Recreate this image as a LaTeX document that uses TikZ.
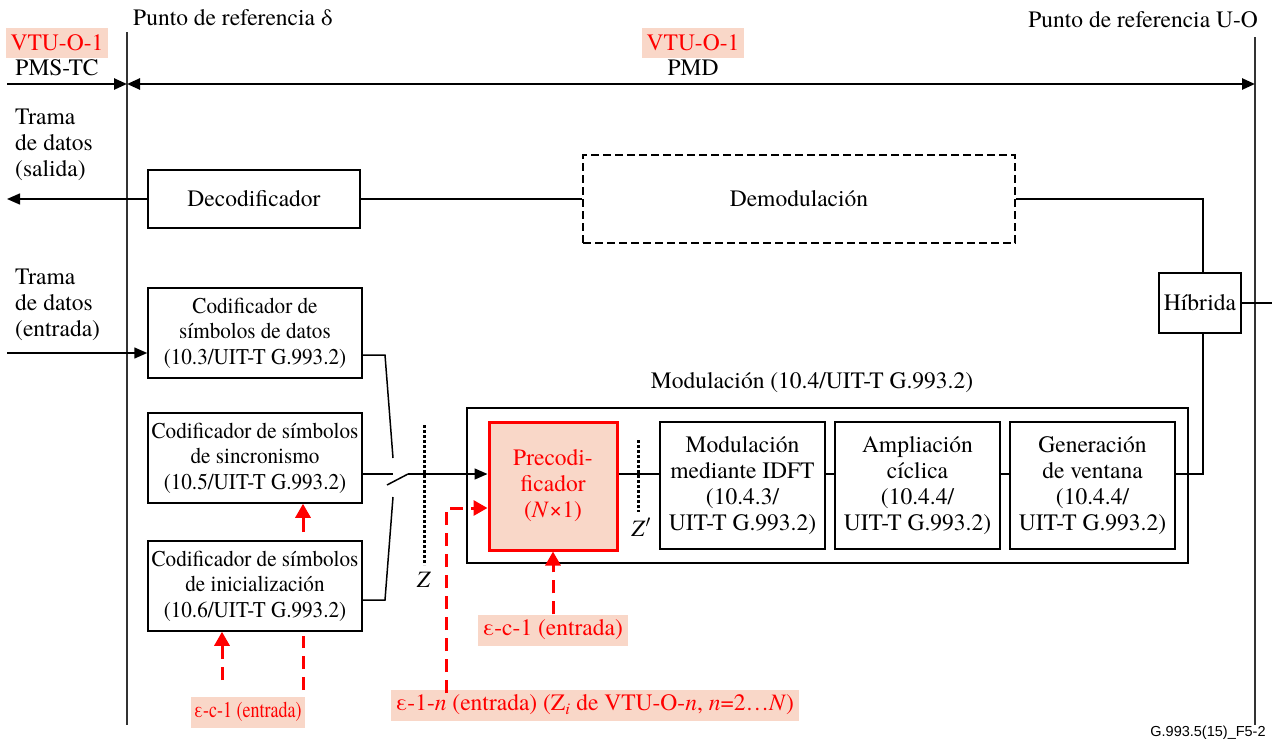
\documentclass[tikz,border=0pt]{standalone}
\usepackage{fontspec}
\IfFontExistsTF{texgyretermes-regular.otf}{%
  \setmainfont{texgyretermes}[Extension=.otf, UprightFont=*-regular, ItalicFont=*-italic, BoldFont=*-bold, BoldItalicFont=*-bolditalic]%
}{%
  \setmainfont{Liberation Serif}%
}
\newfontfamily\footfont{Liberation Sans}
\usetikzlibrary{arrows.meta}
\definecolor{pinkbg}{RGB}{249,215,200}
\definecolor{myred}{RGB}{255,0,0}
\begin{document}
\begin{tikzpicture}[x=1pt,y=-1pt,
  font=\fontsize{23.5}{26}\selectfont,
  box/.style={draw, line width=1.5pt, align=center, inner sep=0pt},
  cbox/.style={box, font=\fontsize{22.5}{25.5}\selectfont\addfontfeature{FakeStretch=0.94}},
  ln/.style={line width=1.5pt},
  tip/.style={-{Triangle[length=13pt,width=11pt]}},
  reddash/.style={draw=myred, line width=3pt, dash pattern=on 13pt off 8pt},
  redtip/.style={-{Triangle[length=14pt,width=15pt]}},
  redlab/.style={fill=pinkbg, text=myred, inner xsep=5pt, inner ysep=3pt},
  zdot/.style={line width=3pt, dash pattern=on 3pt off 2pt},
  refline/.style={line width=2pt, draw=black!80},
  lab/.style={inner sep=0pt}
]
\useasboundingbox (0,0) rectangle (1272,744);

% reference lines
\coordinate (dT) at (127,32);
\coordinate (dB) at (127,725);
\coordinate (uT) at (1255,37);
\coordinate (uB) at (1255,725);
\draw[refline] (dT) -- (dB);
\draw[refline] (uT) -- (uB);

\node[lab, anchor=west] (pdelta) at (133,18) {Punto de referencia δ};
\node[lab, anchor=east] (puo) at (1258,20) {Punto de referencia U-O};

\node[redlab, minimum height=30pt] (vtu1) at (57,43) {VTU-O-1};
\node[lab] (pms) at (57,68) {PMS-TC};
\node[redlab, minimum height=30pt] (vtu2) at (693,43) {VTU-O-1};
\node[lab] (pmd) at (693,68) {PMD};

% top arrows
\coordinate (a0) at (7,84);
\coordinate (a1) at (127,84);
\coordinate (a2) at (1255,84);
\draw[line width=2.5pt, tip] (a0) -- (a1);
\draw[line width=2.5pt, {Triangle[length=13pt,width=11pt]}-{Triangle[length=13pt,width=11pt]}] (a1) -- (a2);

% left texts
\node[lab, anchor=west, align=left] (tsal) at (15,145) {Trama\\de datos\\(salida)};
\node[lab, anchor=west, align=left] (tent) at (15,305) {Trama\\de datos\\(entrada)};

% boxes
\node[box, minimum width=212pt, minimum height=58pt] (dec) at (254,199) {Decodificador};
\node[box, dash pattern=on 8pt off 4pt, minimum width=432pt, minimum height=88pt] (dem) at (799,199) {Demodulación};
\node[box, minimum width=82pt, minimum height=60pt] (hyb) at (1200,303) {Híbrida};

\node[cbox, minimum width=214pt, minimum height=90pt] (c1) at (255,333) {Codificador de\\símbolos de datos\\(10.3/UIT-T G.993.2)};
\node[cbox, minimum width=214pt, minimum height=90pt] (c2) at (255,458) {Codificador de símbolos\\de sincronismo\\(10.5/UIT-T G.993.2)};
\node[cbox, minimum width=214pt, minimum height=90pt] (c3) at (255,586) {Codificador de símbolos\\de inicialización\\(10.6/UIT-T G.993.2)};

\node[box, minimum width=721pt, minimum height=155pt] (mod) at (827.5,485.5) {};
\node[lab] (modl) at (812,383) {Modulación (10.4/UIT-T G.993.2)};

\node[box, draw=myred, line width=3pt, fill=pinkbg, text=myred, minimum width=128pt, minimum height=128pt] (pre) at (553,486) {Precodi-\\ficador\\(\textit{N}×1)};
\node[box, minimum width=165pt, minimum height=127pt] (idft) at (742.5,485.5) {Modulación\\mediante IDFT\\(10.4.3/\\UIT-T G.993.2)};
\node[box, minimum width=165pt, minimum height=127pt] (amp) at (917.5,485.5) {Ampliación\\cíclica\\(10.4.4/\\UIT-T G.993.2)};
\node[box, minimum width=165pt, minimum height=127pt] (gen) at (1092.5,485.5) {Generación\\de ventana\\(10.4.4/\\UIT-T G.993.2)};

% output path
\coordinate (outL) at (7,199);
\draw[ln, tip] (dec.west) -- (outL);
\draw[ln] (dec.east) -- (dem.west);
\coordinate (h1) at (1203,199);
\coordinate (h2) at (1203,273);
\draw[ln] (dem.east) -- (h1) -- (h2);
\coordinate (hR) at (1272,303);
\draw[ln] (hyb.east) -- (hR);
\coordinate (h3) at (1203,333);
\coordinate (h4) at (1203,474);
\draw[ln] (h3) -- (h4) -- ([yshift=11.5pt]gen.east);

% input path
\coordinate (inL) at (7,353);
\draw[ln, tip] (inL) -- ([yshift=-20pt]c1.west);

% switch
\coordinate (s1a) at (385,355);
\coordinate (s1b) at (393,458);
\draw[ln] ([yshift=-22pt]c1.east) -- (s1a) -- (s1b);
\coordinate (s2a) at (393,474);
\coordinate (sw0) at (387,485);
\coordinate (sw1) at (408,474);
\draw[ln] ([yshift=-16pt]c2.east) -- (s2a);
\draw[ln] (sw0) -- (sw1);
\draw[ln, tip] (sw1) -- ([yshift=12pt]pre.west);
\coordinate (s3a) at (385,600);
\coordinate (s3b) at (393,497);
\draw[ln] ([yshift=-14pt]c3.east) -- (s3a) -- (s3b);

% chain
\draw[ln] ([yshift=12pt]pre.east) -- ([yshift=11.5pt]idft.west);
\draw[ln] ([yshift=11.5pt]idft.east) -- ([yshift=11.5pt]amp.west);
\draw[ln] ([yshift=11.5pt]amp.east) -- ([yshift=11.5pt]gen.west);

% Z lines
\coordinate (z0) at (424,425);
\coordinate (z1) at (424,565);
\draw[zdot] (z0) -- (z1);
\node[lab] (zl) at (424,580) {\textit{Z}};
\coordinate (zp0) at (638,440);
\coordinate (zp1) at (638,512);
\draw[zdot] (zp0) -- (zp1);
\node[lab] (zpl) at (641,527) {\textit{Z}$'$};

% red labels
\node[redlab, font=\fontsize{22.5}{24}\selectfont\addfontfeature{FakeStretch=0.8}, minimum height=31pt, inner xsep=3pt] (ec1) at (248,712) {ε-c-1 (entrada)};
\node[redlab, minimum height=31pt] (ec2) at (553,630) {ε-c-1 (entrada)};
\node[redlab, minimum height=31pt] (e1n) at (595,705) {ε-1-\textit{n} (entrada) (Z\textsubscript{\textit{i}} de VTU-O-\textit{n}, \textit{n}=2…\textit{N})};

% red connectors
\coordinate (r1) at (303,532);
\draw[myred, line width=3pt, redtip] (r1) -- (c2.south -| r1);
\coordinate (r2) at (222,680);
\draw[reddash, redtip] (r2) -- (c3.south -| r2);
\coordinate (r3a) at (303,690);
\coordinate (r3b) at (303,636);
\draw[reddash] (r3a) -- (r3b);
\coordinate (r4a) at (446,693);
\coordinate (r4b) at (446,508);
\draw[reddash, redtip] (r4a) -- (r4b) -- ([yshift=-22pt]pre.west);
\draw[reddash, redtip] (ec2.north) -- (pre.south);

% footer
\node[lab, font=\footfont\fontsize{14.5}{16}\selectfont] (foot) at (1208,733) {G.993.5(15)\_F5-2};
\end{tikzpicture}
\end{document}
